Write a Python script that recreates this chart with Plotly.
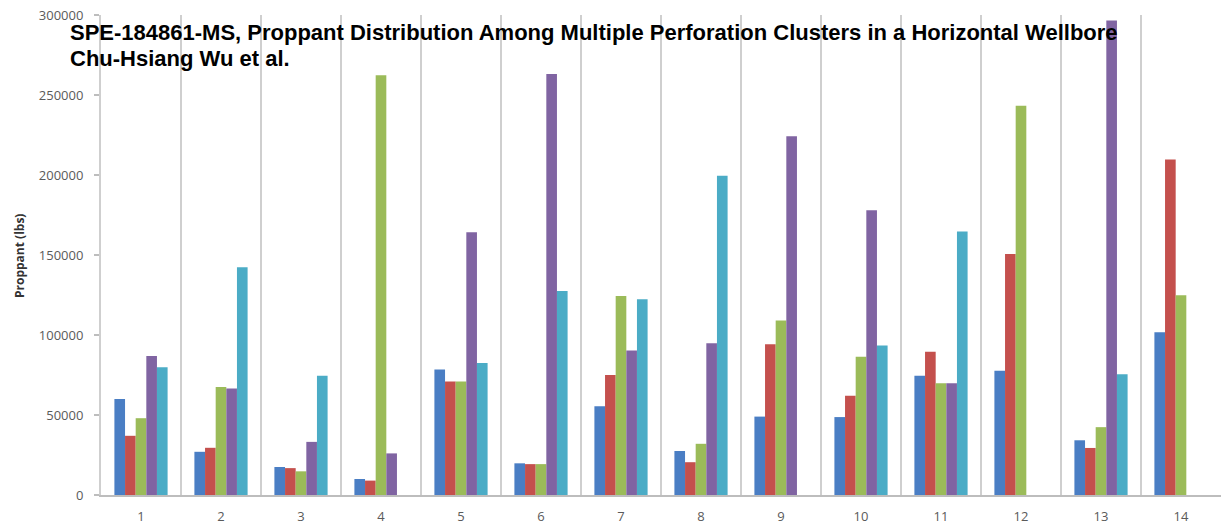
import plotly.graph_objects as go

categories = [str(i) for i in range(1, 15)]
cluster1 = [60000, 27000, 17500, 10000, 78500, 19800, 55500, 27500, 49000, 48700, 74500, 77600, 34200, 101700]
cluster2 = [37000, 29500, 16800, 9000, 71000, 19300, 75000, 20500, 94200, 62000, 89600, 150600, 29400, 209700]
cluster3 = [48000, 67500, 14800, 262300, 71000, 19300, 124300, 32000, 109000, 86400, 69900, 243300, 42400, 124800]
cluster4 = [86900, 66500, 33200, 26000, 164200, 263100, 90300, 94800, 224200, 177900, 69900, 0, 296500, 0]
cluster5 = [79800, 142400, 74500, 0, 82500, 127500, 122400, 199500, 0, 93400, 164700, 0, 75500, 0]

series = [
    ("Cluster 1", cluster1, "#4A7EC4"),
    ("Cluster 2", cluster2, "#C4504D"),
    ("Cluster 3", cluster3, "#9BBB59"),
    ("Cluster 4", cluster4, "#8064A2"),
    ("Cluster 5", cluster5, "#4BACC6"),
]

fig = go.Figure()
for name, vals, col in series:
    fig.add_trace(go.Bar(x=categories, y=vals, name=name, marker=dict(color=col, line=dict(width=0))))

ytickfont = dict(family="Open Sans", size=13, color="#5a5a5a")
xtickfont = dict(family="Open Sans", size=13, color="#5a5a5a")
fig.update_layout(
    width=1222, height=527,
    margin=dict(l=101, r=1, t=15, b=32),
    paper_bgcolor="white", plot_bgcolor="white",
    barmode="group", bargap=0.335, bargroupgap=0,
    showlegend=False,
    xaxis=dict(
        type="category", tickson="boundaries", showgrid=True, gridcolor="#cfcfcf", gridwidth=2,
        ticks="", tickfont=xtickfont, showline=True, linecolor="#bdbdbd", linewidth=1.5,
        ticklabelstandoff=9, zeroline=False, automargin=False, ticklabeloverflow="allow",
    ),
    yaxis=dict(
        range=[0, 300000], dtick=50000, showgrid=False, zeroline=False,
        showline=True, linecolor="#cfcfcf", linewidth=2,
        ticks="outside", ticklen=5, tickcolor="#bdbdbd", tickwidth=1.5,
        tickfont=ytickfont, ticklabelstandoff=8, tickformat="d", automargin=False,
        ticklabeloverflow="allow",
    ),
    annotations=[
        dict(text="<b>SPE-184861-MS, Proppant Distribution Among Multiple Perforation Clusters in a Horizontal Wellbore</b>",
             xref="paper", yref="paper", x=(68 - 101) / 1120, y=(495 - 33) / 480,
             xanchor="left", yanchor="middle", showarrow=False,
             font=dict(family="Liberation Sans, Arial", size=22, color="black")),
        dict(text="<b>Chu-Hsiang Wu et al.</b>",
             xref="paper", yref="paper", x=(68 - 101) / 1120, y=(495 - 58.5) / 480,
             xanchor="left", yanchor="middle", showarrow=False,
             font=dict(family="Liberation Sans, Arial", size=22, color="black")),
        dict(text="<b>Proppant (lbs)</b>", textangle=-90,
             xref="paper", yref="paper", x=(19 - 101) / 1120, y=(495 - 256) / 480,
             xanchor="center", yanchor="middle", showarrow=False,
             font=dict(family="Open Sans", size=12, color="#333333")),
    ],
)

fig.write_html("out.html", config={"displayModeBar": False},
               post_script="document.body.style.margin='0';")
